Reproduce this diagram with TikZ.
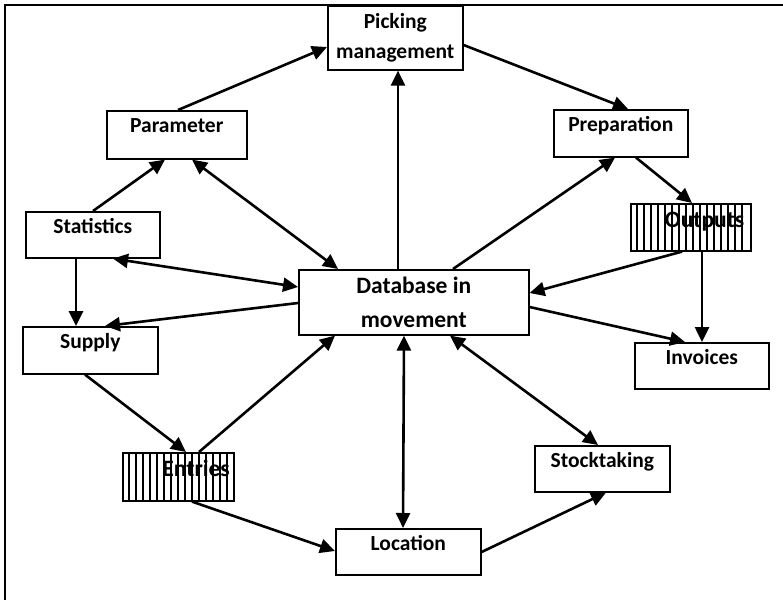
\documentclass[tikz,border=0pt]{standalone}
\usepackage{fontspec}
\setmainfont{Carlito}
\usetikzlibrary{arrows.meta,calc,backgrounds}
\tikzset{
  box/.style={draw, line width=1.6pt, inner sep=0pt, font=\bfseries\fontsize{21.5}{30}\selectfont, align=center},
  topbox/.style={box, text height=22pt, text depth=#1},
  hbox/.style={box, font=\bfseries\fontsize{23.5}{30}\selectfont, align=right},
  hline/.style={line width=1.2pt},
  arr/.style={line width=2.6pt, -{Triangle[length=15pt,width=14pt]}},
  darr/.style={line width=2.6pt, {Triangle[length=15pt,width=14pt]}-{Triangle[length=15pt,width=14pt]}},
  frame/.style={line width=2pt}
}
\begin{document}
\begin{tikzpicture}[x=1pt,y=-1pt]
\useasboundingbox (0,0) rectangle (783,599);
\coordinate (fa) at (5,620);
\coordinate (fb) at (5,5);
\coordinate (fc) at (800,5);
\draw[frame] (fa) -- (fb) -- (fc);

\node[box, minimum width=135pt, minimum height=64pt, anchor=north west] (pick) at (327,5) {Picking\\management};
\node[topbox=26pt, minimum width=140pt, anchor=north west] (param) at (106,110) {Parameter};
\node[topbox=25pt, minimum width=134pt, anchor=north west] (prep) at (553,109) {Preparation};
\node[topbox=24pt, minimum width=134pt, anchor=north west] (stat) at (25,211) {Statistics};
\node[topbox=25pt, minimum width=135pt, anchor=north west] (supply) at (22,326) {Supply};
\node[hbox, anchor=north west, text width=107pt, inner xsep=6.5pt, text height=24pt, text depth=23pt] (outputs) at (630,203) {Outputs};
\node[box, minimum width=230pt, minimum height=65pt, anchor=north west, font=\bfseries\fontsize{23.5}{34}\selectfont] (db) at (298,269) {Database in\\movement};
\node[topbox=24pt, minimum width=134pt, anchor=north west] (inv) at (634,342) {Invoices};
\node[topbox=24pt, minimum width=135pt, anchor=north west] (stock) at (534,445) {Stocktaking};
\node[hbox, anchor=north west, text width=103pt, inner xsep=4pt, text height=24pt, text depth=24pt] (entries) at (122,452) {Entries};
\node[topbox=24pt, minimum width=145pt, anchor=north west] (loc) at (335,528) {Location};

\begin{scope}[on background layer]
  \foreach \k in {1,...,16}{\draw[hline] ($(outputs.north west)+(\k*7,0)$) -- ($(outputs.south west)+(\k*7,0)$);}
  \foreach \k in {1,...,15}{\draw[hline] ($(entries.north west)+(\k*7,0)$) -- ($(entries.south west)+(\k*7,0)$);}
\end{scope}

\draw[arr] ($(param.north west)+(72,0)$) -- ($(pick.north west)+(0,42)$);
\draw[arr] ($(pick.north east)+(0,40)$) -- ($(prep.north west)+(75,0)$);
\draw[arr] ($(db.north west)+(100,0)$) -- ($(pick.south west)+(71,0)$);
\draw[arr] ($(db.north west)+(155,0)$) -- ($(prep.south west)+(62,0)$);
\draw[arr] ($(prep.south west)+(83,0)$) -- ($(outputs.north west)+(62,0)$);
\draw[arr] ($(outputs.south west)+(52,0)$) -- ($(db.north east)+(0,24)$);
\draw[arr] ($(outputs.south west)+(72,0)$) -- ($(inv.north west)+(68,0)$);
\draw[arr] ($(db.north east)+(0,38)$) -- ($(inv.north west)+(51,0)$);
\draw[darr] ($(db.south west)+(152,0)$) -- ($(stock.north west)+(64,0)$);
\draw[darr] ($(db.south west)+(106,0)$) -- ($(loc.north west)+(68,0)$);
\draw[arr] ($(loc.north east)+(0,24)$) -- ($(stock.south west)+(72,0)$);
\draw[arr] ($(entries.south west)+(70,0)$) -- ($(loc.north west)+(0,23)$);
\draw[arr] ($(entries.north west)+(77,0)$) -- ($(db.south west)+(37,0)$);
\draw[arr] ($(supply.south west)+(63,0)$) -- ($(entries.north west)+(64,0)$);
\draw[arr] ($(db.north west)+(0,34)$) -- ($(supply.north west)+(83,0)$);
\draw[darr] ($(stat.south west)+(88,0)$) -- ($(db.north west)+(0,18)$);
\draw[arr] ($(stat.south west)+(51,0)$) -- ($(supply.north west)+(54,0)$);
\draw[arr] ($(stat.north west)+(68,0)$) -- ($(param.south west)+(59,0)$);
\draw[darr] ($(param.south west)+(86,0)$) -- ($(db.north west)+(40,0)$);
\end{tikzpicture}
\end{document}
